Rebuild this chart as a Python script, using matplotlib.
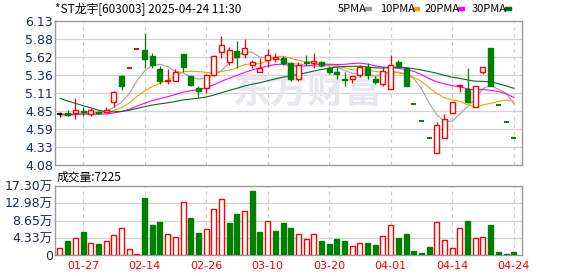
import numpy as np
import pandas as pd
import matplotlib
matplotlib.use("Agg")
import matplotlib.pyplot as plt
from matplotlib.patches import Rectangle

plt.rcParams["font.family"] = ["DejaVu Sans", "Noto Sans CJK SC"]

# 交易日
dates = ["01-22", "01-23", "01-24", "01-27", "02-05", "02-06", "02-07", "02-10",
         "02-11", "02-12", "02-13", "02-14", "02-17", "02-18", "02-19", "02-20",
         "02-21", "02-24", "02-25", "02-26", "02-27", "02-28", "03-03", "03-04",
         "03-05", "03-06", "03-07", "03-10", "03-11", "03-12", "03-13", "03-14",
         "03-17", "03-18", "03-19", "03-20", "03-21", "03-24", "03-25", "03-26",
         "03-27", "03-28", "03-31", "04-01", "04-02", "04-03", "04-07", "04-08",
         "04-09", "04-10", "04-11", "04-14", "04-15", "04-16", "04-17", "04-18",
         "04-21", "04-22", "04-23", "04-24"]

opens = [4.80, 4.82, 4.82, 4.85, 4.81, 4.83, 4.84, 4.97, 5.35, 5.46,
         5.73, 5.72, 5.63, 5.45, 5.27, 5.28, 5.66, 5.35, 5.17, 5.17,
         5.36, 5.69, 5.55, 5.70, 5.66, 5.50, 5.41, 5.58, 5.59, 5.61,
         5.53, 5.31, 5.55, 5.53, 5.55, 5.46, 5.40, 5.31, 5.30, 5.36,
         5.47, 5.30, 5.24, 5.16, 5.54, 5.46, 4.95, 4.70, 4.47, 4.25,
         4.46, 4.82, 5.20, 5.16, 4.91, 5.40, 5.74, 4.94, 4.69, 4.46]
highs = [4.84, 4.87, 5.03, 4.91, 4.89, 4.84, 4.90, 5.13, 5.36, 5.46,
         5.73, 5.96, 5.67, 5.49, 5.44, 5.44, 5.66, 5.35, 5.21, 5.38,
         5.64, 5.92, 5.76, 5.85, 5.88, 5.58, 5.60, 5.73, 5.67, 5.63,
         5.55, 5.54, 5.65, 5.68, 5.56, 5.49, 5.48, 5.41, 5.35, 5.50,
         5.53, 5.34, 5.47, 5.65, 5.58, 5.47, 4.95, 4.70, 4.47, 4.69,
         4.80, 4.97, 5.22, 5.46, 5.21, 5.47, 5.74, 4.94, 4.69, 4.46]
lows = [4.77, 4.78, 4.74, 4.78, 4.78, 4.81, 4.82, 4.90, 5.15, 5.46,
        5.73, 5.46, 5.46, 5.24, 5.24, 5.27, 5.41, 5.20, 5.05, 5.10,
        5.34, 5.60, 5.51, 5.46, 5.61, 5.46, 5.41, 5.48, 5.55, 5.50,
        5.28, 5.27, 5.51, 5.46, 5.48, 5.38, 5.31, 5.21, 5.25, 5.33,
        5.31, 5.23, 5.21, 5.16, 5.47, 5.21, 4.95, 4.70, 4.47, 4.25,
        4.46, 4.82, 5.12, 4.96, 4.91, 5.38, 5.20, 4.94, 4.69, 4.46]
closes = [4.80, 4.79, 4.87, 4.83, 4.86, 4.82, 4.87, 5.12, 5.20, 5.46,
          5.73, 5.59, 5.51, 5.28, 5.29, 5.40, 5.48, 5.22, 5.13, 5.36,
          5.63, 5.79, 5.72, 5.62, 5.74, 5.54, 5.46, 5.65, 5.62, 5.53,
          5.31, 5.50, 5.53, 5.56, 5.50, 5.41, 5.38, 5.29, 5.35, 5.47,
          5.36, 5.26, 5.42, 5.50, 5.48, 5.21, 4.95, 4.70, 4.47, 4.65,
          4.73, 4.97, 5.22, 4.97, 5.21, 5.47, 5.20, 4.94, 4.69, 4.46]
# 成交量(手)
volumes = [18500, 34400, 43700, 57100, 31100, 26900, 34400, 51200, 68900, 16000,
           3400, 142000, 74800, 82300, 53800, 46200, 131900, 92400, 54600, 66400,
           114200, 139400, 79800, 102500, 109200, 160400, 57100, 86500, 59600, 79800,
           67200, 52100, 41200, 53800, 34400, 26900, 39500, 34400, 23500, 31100,
           29400, 24400, 48700, 76400, 42000, 52100, 9200, 4200, 19300, 81500,
           38600, 18500, 68900, 84000, 43700, 46200, 74800, 6700, 1700, 7225]
# 画面外の直前29日の終値(移動平均用, 推定)
prev_closes = [5.90, 5.85, 5.85, 5.80, 5.85, 5.45, 5.20, 5.02, 4.98, 4.95,
               4.85, 4.80, 4.78, 4.83, 4.86, 4.80, 4.82, 4.79, 4.84, 4.83,
               4.76, 4.73, 4.75, 4.74, 4.77, 4.81, 4.82, 4.82, 4.80]

price_labels = ["4.08", "4.33", "4.59", "4.85", "5.11", "5.36", "5.62", "5.88", "6.13"]
vol_labels = ["0", "4.33万", "8.65万", "12.98万", "17.30万"]
tick_dates = ["01-27", "02-14", "02-26", "03-10", "03-20", "04-01", "04-14", "04-24"]
ma_windows = [5, 10, 20, 30]
ma_names = ["5PMA", "10PMA", "20PMA", "30PMA"]
ma_colors = ["#a0a0a0", "#f5a000", "#ff00ff", "#006b2d"]

RED = "#ff0000"
GREEN = "#008000"
W = 0.65
n = len(dates)
x = np.arange(n)

all_close = pd.Series(prev_closes + closes)
last_close = [prev_closes[-1]] + closes[:-1]

fig = plt.figure(figsize=(5.78, 2.76), dpi=100)
ax1 = fig.add_axes([55 / 578, 1 - 165 / 276, 467 / 578, 144 / 276])
ax2 = fig.add_axes([55 / 578, 1 - 255 / 276, 467 / 578, 69 / 276])

xlim = (-0.65, 60.08)
ymin, ymax = 4.08, 6.13
vmax = 173000
tick_idx = [dates.index(d) for d in tick_dates]

for ax in (ax1, ax2):
    ax.set_xlim(*xlim)
    for s in ax.spines.values():
        s.set_color("#9a9a9a")
        s.set_linewidth(1)
    ax.tick_params(length=0, colors="#1c2e50", labelsize=9)
    ax.tick_params(axis="y", pad=1.5)
    for t in tick_idx:
        ax.axvline(t, color="#cfcfcf", lw=0.9, ls=(0, (3, 3)), zorder=0)

# 価格パネル
ax1.set_ylim(ymin, ymax)
ptick = np.linspace(ymin, ymax, len(price_labels))
ax1.set_yticks(ptick)
ax1.set_yticklabels(price_labels)
ax1.set_xticks([])
for y in ptick[1:-1]:
    ax1.axhline(y, color="#d2d2d2", lw=0.9, zorder=0)

ax1.text(0.542, 0.505, "东方财富", transform=ax1.transAxes, ha="center", va="center",
         fontsize=27, fontweight="bold", color="#e7e7ed",
         family=["Noto Sans CJK SC"], zorder=0)

for k, win in enumerate(ma_windows):
    ma = all_close.rolling(win).mean().to_numpy()[-n:]
    ax1.plot(x, ma, color=ma_colors[k], lw=0.8, zorder=2)

for i in x:
    o, h, l, c = opens[i], highs[i], lows[i], closes[i]
    if c > o:
        col, fill = RED, "white"
    elif c < o:
        col, fill = GREEN, GREEN
    else:
        col = RED if c > last_close[i] else (GREEN if c < last_close[i] else "black")
        fill = col
    ax1.vlines(i, l, h, color=col, lw=0.9, zorder=3)
    if o == c:
        ax1.hlines(c, i - W / 2, i + W / 2, color=col, lw=1.4, zorder=4)
    else:
        ax1.add_patch(Rectangle((i - W / 2, min(o, c)), W, abs(c - o),
                                facecolor=fill, edgecolor=col, lw=1, zorder=4))

# 成交量パネル
ax2.set_ylim(0, vmax)
vtick = np.linspace(0, vmax, len(vol_labels))
ax2.set_yticks(vtick)
ax2.set_yticklabels(vol_labels)
for lab in ax2.get_yticklabels():
    lab.set_family(["DejaVu Sans", "Noto Sans CJK SC"])
for y in vtick[1:-1]:
    ax2.axhline(y, color="#d2d2d2", lw=0.9, zorder=0)
ax2.set_xticks(tick_idx)
ax2.set_xticklabels(tick_dates, color=RED, fontsize=8)
ax2.tick_params(axis="x", pad=4)

for i in x:
    up = closes[i] >= last_close[i]
    ax2.bar(i, volumes[i], width=W, color="white" if up else GREEN,
            edgecolor=RED if up else GREEN, lw=1, zorder=3)

fig.text(57 / 578, 1 - 177 / 276, f"成交量:{volumes[-1]}", fontsize=8.5,
         va="center", family=["Noto Sans CJK SC", "DejaVu Sans"])

# 見出しと凡例
fig.text(55 / 578, 1 - 10 / 276, "*ST龙宇[603003] 2025-04-24 11:30", fontsize=8.5,
         va="center", family=["Noto Sans CJK SC", "DejaVu Sans"])
leg_x = [338, 380, 425, 472]
for k in range(4):
    fig.text(leg_x[k] / 578, 1 - 9 / 276, ma_names[k], fontsize=8, va="center",
             family=["Noto Sans CJK SC", "DejaVu Sans"])
for k, sx in enumerate([365, 413, 458, 505]):
    fig.patches.append(Rectangle((sx / 578, 1 - 10 / 276), 6 / 578, 3 / 276,
                                 transform=fig.transFigure, color=ma_colors[k]))

fig.savefig("out.png", dpi=100)
